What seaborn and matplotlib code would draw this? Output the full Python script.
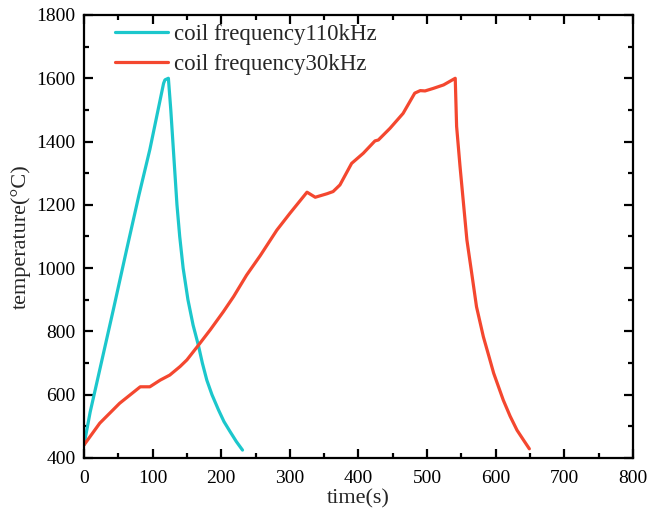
import pandas as pd
import matplotlib
matplotlib.use('Agg')
import matplotlib.pyplot as plt
import seaborn as sns
from matplotlib.ticker import MultipleLocator

# valores
t_110 = [0, 9, 18.5, 30.6, 42.7, 62, 80, 96, 116, 118, 123, 126.5, 129.5,
         132.5, 135.5, 139.5, 144.5, 151.5, 159, 166.6, 172.5, 179, 186.5,
         196, 204, 213, 222, 231]
temp_110 = [441, 545, 636, 752, 868, 1057, 1230, 1375, 1584, 1595, 1600, 1500,
            1400, 1300, 1200, 1100, 1000, 900, 820, 757, 700, 646, 600, 552,
            515, 483, 452, 425]

t_30 = [0, 23, 52, 82, 96, 111, 125, 140, 150, 167, 184, 203, 218, 237, 257,
        281, 300, 325, 337, 354, 363, 373, 390, 407, 424, 429, 446, 465, 482,
        490, 497, 509, 524, 541, 543, 548, 553, 558, 565, 572, 582, 590, 597,
        611, 621, 631, 641, 649]
temp_30 = [441, 510, 573, 625, 625, 646, 662, 689, 710, 757, 805, 862, 910,
           978, 1040, 1120, 1173, 1240, 1224, 1235, 1242, 1263, 1331, 1363,
           1402, 1405, 1442, 1489, 1553, 1561, 1560, 1568, 1579, 1600, 1448,
           1321, 1205, 1089, 984, 878, 783, 722, 668, 583, 532, 488, 455, 429]

labels = ['coil frequency110kHz', 'coil frequency30kHz']
cores = ['#1CC7CC', '#F4472F']

df = pd.concat([
    pd.DataFrame({'time': t_110, 'temp': temp_110, 'serie': labels[0]}),
    pd.DataFrame({'time': t_30, 'temp': temp_30, 'serie': labels[1]}),
])

sns.set_style('ticks')
plt.rcParams['font.family'] = ['Liberation Serif', 'DejaVu Serif']

fig = plt.figure(figsize=(6.49, 5.15), dpi=100)
ax = fig.add_axes([0.1294, 0.1107, 0.8459, 0.8602])

sns.lineplot(data=df, x='time', y='temp', hue='serie', palette=cores,
             sort=False, estimator=None, linewidth=2.3, ax=ax)

ax.set_xlim(0, 800)
ax.set_ylim(400, 1800)
ax.xaxis.set_major_locator(MultipleLocator(100))
ax.xaxis.set_minor_locator(MultipleLocator(50))
ax.yaxis.set_major_locator(MultipleLocator(200))
ax.yaxis.set_minor_locator(MultipleLocator(100))

ax.tick_params(which='both', direction='in', top=True, right=True, width=1.6,
               labelsize=14, colors='black')
ax.tick_params(axis='x', pad=9)
ax.tick_params(axis='y', pad=6)
ax.tick_params(which='major', length=6.5)
ax.tick_params(which='minor', length=3.5)
for s in ax.spines.values():
    s.set_linewidth(1.6)
    s.set_color('black')

ax.set_xlabel('time(s)', fontsize=16, labelpad=1)
ax.set_ylabel('temperature(°C)', fontsize=16, labelpad=4)

leg = ax.legend(loc='upper left', frameon=False, fontsize=16.5, handlelength=2.3,
                handletextpad=0.25, labelspacing=0.38, borderaxespad=0,
                bbox_to_anchor=(0.04, 1.0))
for h in leg.get_lines():
    h.set_linewidth(2.3)

fig.savefig('out.png', dpi=100)
